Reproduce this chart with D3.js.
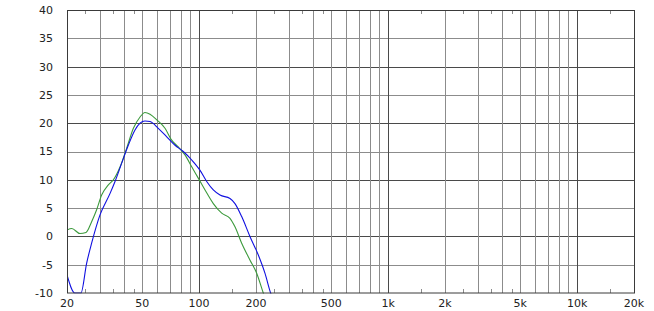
<!DOCTYPE html>
<html>
<head>
<meta charset="utf-8">
<script src="https://cdn.jsdelivr.net/npm/d3@7"></script>
<style>
  body { margin: 0; background: #fff; }
  text { font-family: Verdana, "DejaVu Sans", sans-serif; font-size: 11px; fill: #222; }
</style>
</head>
<body>
<div id="chart"></div>
<script>
// frequency response, two measurements (Hz, dB)
var blueFreq = [20, 22, 23.7, 25.4, 27, 29.9, 33.8, 35.9, 38.9, 42.2, 45.8, 48.7, 51.7, 55, 60.8, 67.4, 74.6, 82.5, 91.4, 101, 109.7, 118.9, 129, 145.7, 154.8, 168, 186, 205.7, 223, 239, 245];
var blueDb   = [-6.8, -10, -10, -4.75, -1.2, 3.8, 7.6, 9.7, 12.9, 16.1, 18.8, 20, 20.4, 20.3, 19.1, 17.6, 16.1, 15, 13.5, 11.7, 9.7, 8.2, 7.3, 6.7, 5.8, 3.5, -0.05, -3.3, -6.5, -10, -11];

var greenFreq = [20, 21.2, 23.4, 25.2, 27, 28.7, 30.5, 33.1, 35.2, 38.2, 41.4, 44.9, 48.7, 51.7, 55, 59.7, 66, 71.6, 77.6, 84.2, 91.4, 99, 107.5, 118.9, 131.7, 145.7, 154.8, 168, 186, 201.7, 218.6, 224];
var greenDb   = [1.13, 1.4, 0.5, 0.7, 2.6, 4.7, 7.3, 9.1, 10, 12.3, 15.6, 19.1, 21.1, 21.9, 21.6, 20.6, 19.1, 17, 15.8, 14.4, 12.3, 10.3, 8.2, 5.8, 4.1, 3.2, 1.7, -1.2, -4.2, -6.5, -10, -11];

var xTickVals = [20, 50, 100, 200, 500, 1000, 2000, 5000, 10000, 20000];
var xTickLabels = ["20", "50", "100", "200", "500", "1k", "2k", "5k", "10k", "20k"];
var xMinorGrid = [30, 40, 50, 60, 70, 80, 90, 200, 300, 400, 500, 600, 700, 800, 900,
                  2000, 3000, 4000, 5000, 6000, 7000, 8000, 9000];
var xMajorGrid = [100, 1000, 10000];
var xSmallTicks = [25, 35, 45, 150, 250, 350, 450, 1500, 2500, 3500, 4500, 15000];
var yTickVals = [-10, -5, 0, 5, 10, 15, 20, 25, 30, 35, 40];

var margin = { top: 10, right: 20, bottom: 18, left: 67 },
    width = 654 - margin.left - margin.right,
    height = 311 - margin.top - margin.bottom;

var svg = d3.select("#chart").append("svg")
    .attr("width", 654)
    .attr("height", 311)
    .append("g")
    .attr("transform", "translate(" + margin.left + "," + margin.top + ")");

var x = d3.scaleLog().domain([20, 20000]).range([0, width]);
var y = d3.scaleLinear().domain([-10, 40]).range([height, 0]);

// horizontal grid
svg.selectAll(".hgrid")
    .data(yTickVals.filter(function (d) { return d > -10 && d < 40; }))
    .enter().append("line")
    .attr("x1", 0).attr("x2", width)
    .attr("y1", function (d) { return Math.round(y(d)) + 0.5; })
    .attr("y2", function (d) { return Math.round(y(d)) + 0.5; })
    .attr("stroke", function (d) { return d % 10 === 0 ? "#4a4a4a" : "#8c8c8c"; })
    .attr("stroke-width", 1);

// vertical grid
svg.selectAll(".vminor")
    .data(xMinorGrid)
    .enter().append("line")
    .attr("y1", 0).attr("y2", height)
    .attr("x1", function (d) { return Math.round(x(d)) + 0.5; })
    .attr("x2", function (d) { return Math.round(x(d)) + 0.5; })
    .attr("stroke", "#8c8c8c");

svg.selectAll(".vmajor")
    .data(xMajorGrid)
    .enter().append("line")
    .attr("y1", 0).attr("y2", height)
    .attr("x1", function (d) { return Math.round(x(d)) + 0.5; })
    .attr("x2", function (d) { return Math.round(x(d)) + 0.5; })
    .attr("stroke", "#4a4a4a");

// small ticks top and bottom
svg.selectAll(".stTop")
    .data(xSmallTicks)
    .enter().append("line")
    .attr("y1", 0).attr("y2", 4)
    .attr("x1", function (d) { return Math.round(x(d)) + 0.5; })
    .attr("x2", function (d) { return Math.round(x(d)) + 0.5; })
    .attr("stroke", "#8c8c8c");
svg.selectAll(".stBot")
    .data(xSmallTicks)
    .enter().append("line")
    .attr("y1", height - 4).attr("y2", height)
    .attr("x1", function (d) { return Math.round(x(d)) + 0.5; })
    .attr("x2", function (d) { return Math.round(x(d)) + 0.5; })
    .attr("stroke", "#8c8c8c");

// curves
svg.append("clipPath").attr("id", "clip")
    .append("rect").attr("x", 0).attr("y", -1).attr("width", width).attr("height", height + 1.5);

var line = d3.line()
    .x(function (d) { return x(d[0]); })
    .y(function (d) { return y(d[1]); })
    .curve(d3.curveMonotoneX);

svg.append("path")
    .datum(d3.zip(greenFreq, greenDb))
    .attr("clip-path", "url(#clip)")
    .attr("fill", "none")
    .attr("stroke", "#3c9a3c")
    .attr("stroke-width", 1.1)
    .attr("d", line);

svg.append("path")
    .datum(d3.zip(blueFreq, blueDb))
    .attr("clip-path", "url(#clip)")
    .attr("fill", "none")
    .attr("stroke", "#1010e0")
    .attr("stroke-width", 1.1)
    .attr("d", line);

// frame
svg.append("rect")
    .attr("x", 0.5).attr("y", 0.5)
    .attr("width", width).attr("height", height - 0.5)
    .attr("fill", "none")
    .attr("stroke", "#3a3a3a");

// axis labels
svg.selectAll(".ylab")
    .data(yTickVals)
    .enter().append("text")
    .attr("x", -14)
    .attr("y", function (d) { return y(d); })
    .attr("dy", "0.36em")
    .style("text-anchor", "end")
    .text(function (d) { return d; });

svg.selectAll(".xlab")
    .data(xTickVals)
    .enter().append("text")
    .attr("x", function (d) { return x(d); })
    .attr("y", height + 14)
    .style("text-anchor", "middle")
    .text(function (d, i) { return xTickLabels[i]; });
</script>
</body>
</html>
